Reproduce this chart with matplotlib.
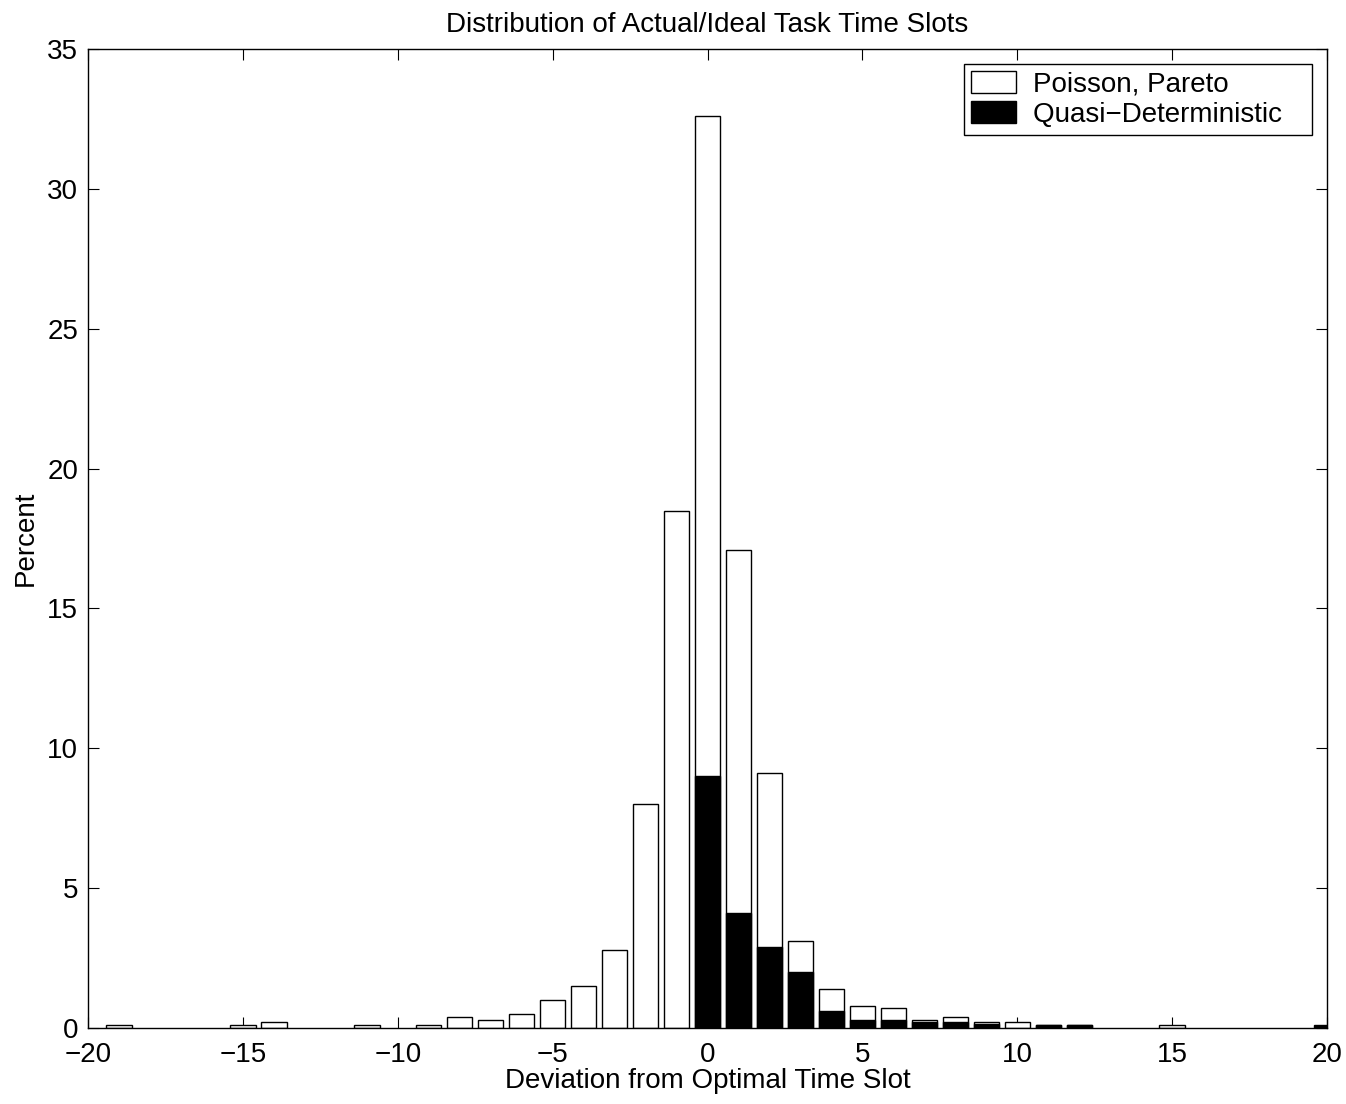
import numpy as np
import matplotlib
matplotlib.use("Agg")
import matplotlib.pyplot as plt
from matplotlib.patches import Patch

plt.rcParams['font.family'] = ['Liberation Sans', 'DejaVu Sans']

# Deviation bins (time slots) and percentages
deviation = [-19, -15, -14, -11, -9, -8, -7, -6, -5, -4, -3, -2, -1,
             0, 1, 2, 3, 4, 5, 6, 7, 8, 9, 10, 11, 12, 15]
poisson_pareto = [0.1, 0.1, 0.2, 0.1, 0.1, 0.4, 0.3, 0.5, 1.0, 1.5, 2.8, 8.0, 18.5,
                  32.6, 17.1, 9.1, 3.1, 1.4, 0.8, 0.7, 0.3, 0.4, 0.2, 0.2, 0.1, 0.1, 0.1]

quasi_dev = [0, 1, 2, 3, 4, 5, 6, 7, 8, 9, 11, 12, 20]
quasi_det = [9.0, 4.1, 2.9, 2.0, 0.6, 0.3, 0.3, 0.2, 0.2, 0.15, 0.1, 0.1, 0.1]

fig = plt.figure(figsize=(13.46, 11.04), dpi=100)
ax = fig.add_axes([0.0654, 0.0688, 0.9205, 0.8868])

bar_w = 0.82
ax.bar(deviation, poisson_pareto, width=bar_w, color='white', edgecolor='black', linewidth=1.0, zorder=2)
ax.bar(quasi_dev, quasi_det, width=bar_w, color='black', edgecolor='black', linewidth=1.0, zorder=3)

ax.set_xlim(-20, 20)
ax.set_ylim(0, 35)
ax.set_xticks(np.arange(-20, 21, 5))
ax.set_yticks(np.arange(0, 36, 5))
ax.tick_params(direction='in', length=8, width=0.8, top=True, right=True, labelsize=20)
ax.tick_params(axis='x', pad=10)
ax.tick_params(axis='y', pad=7)
for sp in ax.spines.values():
    sp.set_linewidth(1.0)

ax.set_xlabel('Deviation from Optimal Time Slot', fontsize=20, labelpad=0)
ax.set_ylabel('Percent', fontsize=20, labelpad=6)
ax.set_title('Distribution of Actual/Ideal Task Time Slots', fontsize=20, pad=12)

handles = [Patch(facecolor='white', edgecolor='black', linewidth=1.0),
           Patch(facecolor='black', edgecolor='black', linewidth=1.0)]
leg = ax.legend(handles, ['Poisson, Pareto', 'Quasi\u2212Deterministic   '],
                loc='upper right', fontsize=20, fancybox=False, framealpha=1,
                edgecolor='black', borderaxespad=0.55, handlelength=1.6,
                handleheight=0.85, labelspacing=0.12, borderpad=0.25, handletextpad=0.6)
leg.get_frame().set_linewidth(1.0)

fig.savefig('out.png', dpi=100)
